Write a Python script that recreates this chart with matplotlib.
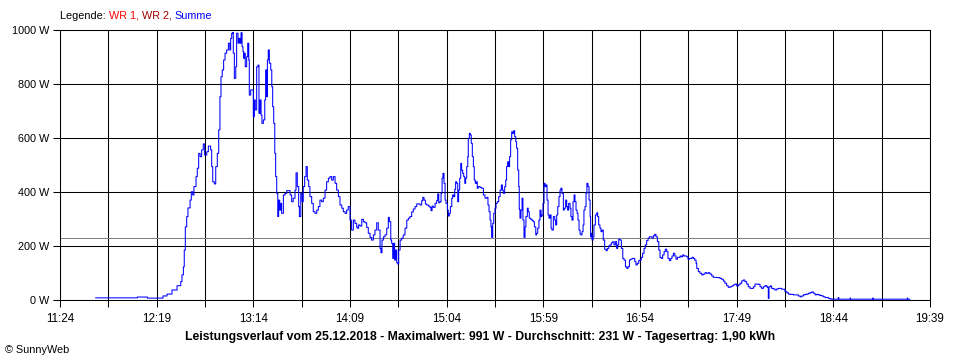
import matplotlib
matplotlib.use("Agg")
import matplotlib.pyplot as plt
import numpy as np

# ---- data (minutes after 11:24, Watt) ----
minutes = [
    20.3, 43.8, 44.0, 49.5, 49.7, 56.9, 58.6, 60.9, 63.7, 66.6, 68.7, 69.4, 70.2, 70.7, 71.3, 72.1,
    72.8, 74.0, 74.7, 75.5, 76.2, 77.4, 78.1, 78.9, 79.7, 80.6, 81.5, 82.3, 83.5, 84.4, 85.7, 86.3,
    86.9, 87.8, 88.6, 89.5, 90.3, 91.0, 91.6, 92.3, 93.1, 93.9, 94.8, 95.8, 96.6, 97.1, 97.7, 98.3,
    98.6, 99.2, 100.0, 100.5, 101.3, 101.8, 102.4, 103.0, 103.6, 104.1, 104.5, 104.9, 105.4, 106.2,
    106.8, 107.4, 107.7, 108.5, 109.2, 110.0, 110.6, 111.1, 111.9, 112.7, 113.2, 113.8, 114.4, 114.9,
    115.7, 116.5, 117.0, 117.6, 118.0, 118.5, 119.1, 119.9, 120.5, 121.0, 121.6, 122.2, 122.7, 123.3,
    123.9, 124.4, 125.0, 125.6, 126.1, 127.1, 128.0, 129.0, 129.9, 130.9, 131.8, 132.7, 133.7, 134.3,
    135.0, 135.8, 136.2, 137.0, 137.7, 138.4, 139.2, 140.0, 140.7, 141.5, 142.2, 143.2, 144.1, 145.1,
    146.1, 147.0, 147.9, 148.9, 149.8, 150.8, 151.7, 152.7, 153.6, 154.6, 155.5, 156.5, 157.4, 158.4,
    159.3, 160.3, 161.2, 162.2, 163.1, 164.0, 165.0, 165.9, 166.9, 167.8, 168.8, 169.1, 169.9, 170.7,
    171.7, 172.6, 173.5, 174.5, 175.4, 176.4, 177.3, 178.3, 179.2, 180.2, 181.1, 182.1, 182.6, 183.2,
    184.0, 184.9, 185.9, 186.8, 187.4, 188.2, 188.7, 189.3, 189.9, 190.4, 191.0, 191.6, 192.2, 192.7,
    193.5, 194.4, 195.3, 196.3, 197.3, 198.2, 199.1, 200.1, 201.0, 202.0, 203.0, 203.9, 204.8, 205.8,
    206.4, 207.1, 207.9, 208.6, 209.6, 210.5, 211.1, 211.7, 212.4, 213.4, 214.3, 214.9, 215.5, 216.2,
    216.8, 217.4, 217.9, 218.5, 219.1, 219.6, 220.4, 220.9, 221.5, 222.1, 222.9, 223.4, 224.0, 224.6,
    225.1, 225.7, 226.3, 226.8, 227.4, 228.0, 228.5, 229.1, 229.7, 230.3, 230.8, 231.4, 232.0, 232.3,
    232.9, 233.5, 234.0, 234.6, 235.2, 235.7, 236.3, 236.9, 237.4, 238.0, 239.0, 239.9, 240.9, 241.8,
    242.8, 243.5, 244.1, 244.7, 245.2, 245.6, 246.2, 246.8, 247.5, 248.1, 248.8, 249.6, 250.4, 251.1,
    251.7, 252.2, 253.0, 253.6, 254.1, 254.7, 255.3, 255.8, 256.4, 257.0, 257.5, 258.1, 258.7, 259.3,
    259.8, 260.4, 261.0, 261.3, 261.7, 262.3, 262.9, 263.4, 264.0, 264.6, 265.1, 265.9, 266.4, 267.0,
    267.8, 268.6, 269.3, 269.9, 270.7, 271.2, 271.8, 272.5, 273.1, 273.7, 274.2, 274.8, 275.4, 276.0,
    276.5, 277.1, 277.7, 278.2, 278.8, 279.4, 279.9, 280.7, 281.5, 282.0, 282.6, 283.2, 283.9, 284.5,
    285.0, 285.6, 286.4, 286.9, 287.7, 288.3, 288.8, 289.4, 290.2, 290.7, 291.3, 291.9, 292.5, 293.0,
    293.6, 294.2, 294.7, 295.3, 295.9, 296.4, 297.0, 297.6, 298.1, 298.7, 299.3, 299.8, 300.4, 301.0,
    301.6, 301.9, 302.3, 302.7, 303.3, 303.8, 304.6, 305.4, 305.9, 306.5, 307.2, 307.8, 308.4, 309.1,
    309.9, 310.7, 311.4, 312.2, 312.9, 313.7, 314.5, 315.2, 316.0, 316.7, 317.3, 317.9, 318.6, 319.4,
    320.2, 320.9, 321.7, 322.5, 323.2, 324.0, 324.7, 325.5, 326.2, 327.0, 327.7, 328.5, 329.3, 330.0,
    330.7, 331.5, 332.3, 333.0, 333.8, 334.6, 335.3, 336.1, 336.8, 337.6, 338.4, 339.1, 339.9, 340.7,
    341.4, 342.1, 342.9, 343.7, 344.4, 345.2, 345.9, 346.7, 347.5, 348.2, 349.0, 349.8, 350.5, 351.3,
    352.0, 352.8, 353.5, 354.3, 355.0, 356.6, 357.3, 358.1, 359.6, 360.4, 361.1, 361.9, 362.3, 363.2,
    364.1, 365.1, 366.0, 367.0, 367.9, 368.9, 369.8, 370.8, 371.7, 373.6, 375.5, 376.4, 377.4, 378.3,
    379.3, 380.2, 381.2, 382.2, 383.1, 384.1, 385.0, 386.0, 386.9, 387.9, 388.8, 389.7, 390.7, 391.6,
    392.6, 393.5, 394.5, 395.4, 396.4, 397.3, 398.3, 399.2, 400.2, 401.1, 402.1, 402.6, 403.0, 403.4,
    404.2, 404.9, 405.9, 406.8, 407.8, 408.7, 409.7, 410.6, 411.6, 412.5, 413.5, 414.4, 415.4, 417.3,
    419.2, 420.1, 421.1, 422.0, 423.0, 423.9, 424.9, 425.8, 426.8, 427.7, 428.6, 429.6, 430.5, 431.5,
    432.4, 433.4, 434.3, 435.3, 436.2, 437.2, 438.1, 439.1, 442.5, 442.8, 443.1, 449.2, 449.5, 449.8,
    462.1, 462.4, 462.7, 481.8, 482.1, 482.4, 483.6,
]
watts = [
    8, 8, 11, 11, 7, 7, 15, 22, 37, 53, 68, 93, 123, 185, 271, 309,
    341, 370, 401, 389, 420, 457, 488, 543, 531, 556, 578, 537, 549, 570, 556, 494,
    438, 430, 494, 543, 630, 753, 827, 852, 889, 914, 926, 951, 926, 969, 988, 991,
    914, 821, 864, 988, 951, 969, 951, 990, 938, 920, 895, 914, 864, 901,
    951, 889, 759, 778, 778, 679, 741, 704, 864, 870, 691, 741, 685, 654,
    667, 741, 852, 753, 889, 926, 877, 852, 790, 716, 654, 543, 457, 395,
    309, 370, 333, 358, 321, 389, 395, 405, 405, 389, 364, 377, 407, 471,
    420, 346, 309, 395, 364, 420, 457, 494, 444, 420, 383, 358, 327, 321,
    333, 346, 370, 364, 377, 407, 438, 451, 457, 444, 457, 432, 407, 383,
    352, 340, 327, 321, 333, 346, 296, 259, 296, 284, 271, 266, 278, 274,
    299, 290, 286, 269, 247, 232, 222, 241, 259, 286, 259, 191, 175, 222,
    234, 241, 266, 306, 290, 222, 210, 154, 210, 148, 185, 138, 133, 185,
    222, 229, 241, 266, 296, 303, 309, 326, 337, 346, 356, 356, 352, 368,
    380, 370, 356, 352, 348, 343, 331, 348, 343, 358, 368, 393, 360, 364,
    395, 451, 469, 432, 370, 358, 333, 311, 321, 346, 377, 389, 383, 410,
    438, 432, 364, 407, 451, 506, 481, 469, 457, 432, 451, 494, 531, 599,
    617, 611, 580, 531, 494, 444, 432, 438, 414, 420, 417, 414, 389, 377,
    380, 352, 327, 296, 271, 232, 284, 321, 340, 358, 364, 383, 407, 426,
    407, 395, 420, 444, 494, 512, 494, 531, 593, 623, 617, 627, 605, 586,
    562, 481, 420, 336, 303, 333, 377, 296, 232, 271, 309, 340, 327, 303,
    299, 294, 290, 271, 241, 247, 266, 296, 333, 309, 315, 358, 432, 420,
    426, 370, 315, 303, 315, 266, 259, 309, 296, 278, 315, 346, 383, 407,
    414, 395, 333, 340, 370, 346, 333, 358, 340, 309, 296, 364, 389, 364,
    333, 321, 296, 259, 244, 241, 253, 278, 333, 346, 395, 432, 420, 370,
    309, 234, 247, 222, 234, 278, 315, 323, 309, 278, 266, 253, 259, 222,
    188, 183, 191, 200, 204, 212, 216, 204, 216, 191, 204, 225, 222, 191,
    154, 148, 123, 117, 123, 148, 151, 154, 154, 142, 130, 136, 146, 148,
    158, 173, 191, 204, 220, 229, 234, 234, 229, 238, 243, 234, 216, 185,
    158, 154, 167, 179, 188, 179, 154, 146, 154, 163, 173, 163, 151, 158,
    158, 163, 160, 167, 163, 160, 151, 154, 158, 154, 148, 136, 117, 105,
    99, 93, 96, 101, 99, 101, 96, 89, 84, 83, 80, 77, 70, 62,
    53, 47, 49, 52, 56, 59, 52, 56, 62, 71, 74, 68, 59, 49,
    43, 43, 49, 59, 59, 58, 49, 43, 49, 53, 49, 47, 6, 49,
    52, 43, 41, 37, 41, 43, 43, 40, 40, 31, 27, 22, 21, 19,
    19, 15, 12, 15, 19, 21, 22, 25, 27, 30, 25, 19, 21, 19,
    17, 15, 12, 9, 9, 6, 4, 3, 3, 9, 3, 3, 7, 3,
    3, 7, 3, 3, 7, 3, 3,
]
average_w = 231
tick_labels = ["11:24", "12:19", "13:14", "14:09", "15:04", "15:59", "16:54", "17:49", "18:44", "19:39"]
y_ticks = [0, 200, 400, 600, 800, 1000]
title = ("Leistungsverlauf vom 25.12.2018 - Maximalwert: 991 W - Durchschnitt: 231 W - "
         "Tagesertrag: 1,90 kWh")

FONT = "Liberation Sans"
plt.rcParams["font.family"] = [FONT, "DejaVu Sans"]

fig = plt.figure(figsize=(9.6, 3.6), dpi=100)
ax = fig.add_axes([60 / 960, 1 - 300 / 360, 870 / 960, 270 / 360])

span = 495.0
ax.set_xlim(0, span)
ax.set_ylim(0, 1000)

lw = 0.75
xt = np.arange(0, span + 0.01, span / 18)
ax.set_xticks(xt)
ax.set_xticklabels([tick_labels[i // 2] if i % 2 == 0 else "" for i in range(len(xt))])
ax.set_yticks(y_ticks)
ax.set_yticklabels([f"{v} W" for v in y_ticks])
ax.grid(True, color="black", linewidth=lw)
ax.set_axisbelow(True)
for s in ax.spines.values():
    s.set_color("black")
    s.set_linewidth(lw)
ax.tick_params(axis="y", length=5, width=lw, color="black", labelsize=7.8, pad=3)
ax.tick_params(axis="x", length=5, width=lw, color="black", labelsize=8.4, pad=4)

ax.axhline(average_w, color="#808080", linewidth=lw, zorder=2)
ax.plot(minutes, watts, color="#0000FF", linewidth=lw, zorder=3, drawstyle="steps-post")

# legend line at the top
t0 = fig.text(60 / 960, 1 - 16 / 360, "Legende: ", color="black", fontsize=7.8, va="center", ha="left")
parts = [("WR 1, ", "#FF0000"), ("WR 2, ", "#A00000"), ("Summe", "#0000FF")]
prev = t0
for txt, col in parts:
    prev = ax.annotate(txt, xy=(1, 0.5), xycoords=prev, va="center", ha="left", color=col,
                       fontsize=7.8, annotation_clip=False)

fig.text(0.5, 1 - 337 / 360, title, ha="center", va="center", fontsize=8.8, fontweight="bold")
fig.text(5 / 960, 1 - 350 / 360, "© SunnyWeb", ha="left", va="center", fontsize=7.8)

fig.savefig("out.png", dpi=100)
